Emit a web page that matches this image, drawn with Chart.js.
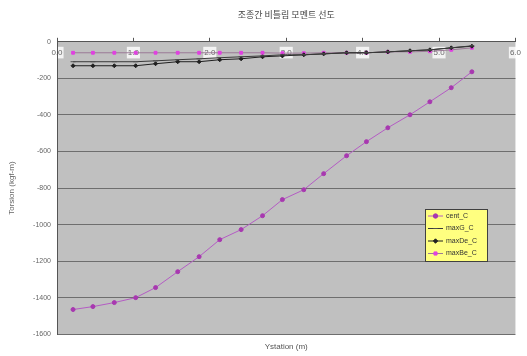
<!DOCTYPE html>
<html lang="ko">
<head>
<meta charset="UTF-8">
<title>비틀림 모멘트 선도</title>
<script src="https://cdn.jsdelivr.net/npm/chart.js@4.4.0/dist/chart.umd.min.js"></script>
<style>
    html, body { margin: 0; padding: 0; background: #fff; }
    #wrap { width: 527px; height: 356px; }
</style>
</head>
<body>
<div id="wrap"><canvas id="torsionChart" width="527" height="356"></canvas></div>
<script>
    // Y station (m)
    var station = [0.21, 0.47, 0.75, 1.03, 1.29, 1.58, 1.86, 2.13, 2.41, 2.69,
                   2.95, 3.23, 3.49, 3.79, 4.05, 4.33, 4.62, 4.88, 5.16, 5.43];

    // 비틀림 모멘트 (kgf-m)
    var centC  = [-1464, -1448, -1426, -1399, -1344, -1257, -1175, -1082, -1027, -951,
                  -863, -809, -721, -623, -546, -470, -399, -328, -251, -164];
    var maxGC  = [-109, -109, -109, -109, -104, -98, -93, -87, -82, -77,
                  -71, -71, -66, -60, -60, -55, -49, -44, -33, -22];
    var maxDeC = [-131, -131, -131, -131, -120, -109, -109, -98, -93, -82,
                  -77, -71, -66, -60, -60, -55, -49, -44, -33, -24];
    var maxBeC = [-60, -60, -60, -60, -60, -60, -60, -60, -60, -60,
                  -62, -62, -60, -60, -60, -55, -55, -52, -44, -33];

    var seriesNames = ['cent_C', 'maxG_C', 'maxDe_C', 'maxBe_C'];

    function toPoints(values) {
        return station.map(function(s, i) { return { x: s, y: values[i] }; });
    }

    // 플롯 영역 회색 배경
    var plotBg = {
        id: 'plotBg',
        beforeDraw: function(chart) {
            var a = chart.chartArea, ctx = chart.ctx;
            ctx.save();
            ctx.fillStyle = '#c0c0c0';
            ctx.fillRect(a.left, a.top, a.right - a.left, a.bottom - a.top);
            ctx.restore();
        }
    };

    // 노란 범례 상자 (플롯 안쪽 오른쪽 아래)
    var boxLegend = {
        id: 'boxLegend',
        afterDraw: function(chart) {
            var ctx = chart.ctx;
            var x = 425, y = 209, w = 62, h = 52;
            ctx.save();
            ctx.fillStyle = '#ffff80';
            ctx.fillRect(x, y, w, h);
            ctx.strokeStyle = '#404040';
            ctx.lineWidth = 1;
            ctx.strokeRect(x + 0.5, y + 0.5, w, h);
            ctx.font = '7px "Liberation Sans", Arial, sans-serif';
            ctx.textBaseline = 'middle';
            chart.data.datasets.forEach(function(ds, i) {
                var cy = y + 7 + i * 12.5;
                ctx.strokeStyle = ds.borderColor;
                ctx.lineWidth = 1;
                ctx.beginPath();
                ctx.moveTo(x + 3, cy);
                ctx.lineTo(x + 18, cy);
                ctx.stroke();
                ctx.fillStyle = ds.pointBackgroundColor;
                ctx.strokeStyle = ds.pointBorderColor;
                Chart.helpers.drawPoint(ctx, {
                    pointStyle: ds.pointStyle,
                    radius: 2.2,
                    rotation: 0,
                    borderWidth: 1
                }, x + 10.5, cy);
                ctx.fillStyle = '#333';
                ctx.fillText(ds.label, x + 21, cy);
            });
            ctx.restore();
        }
    };

    var ctx = document.getElementById('torsionChart').getContext('2d');
    new Chart(ctx, {
        type: 'line',
        data: {
            datasets: [{
                label: seriesNames[0],
                data: toPoints(centC),
                borderColor: '#b45cc4',
                borderWidth: 1,
                pointStyle: 'circle',
                pointRadius: 2,
                pointBackgroundColor: '#a838b0',
                pointBorderColor: '#a838b0',
                fill: false
            }, {
                label: seriesNames[1],
                data: toPoints(maxGC),
                borderColor: '#3a3a3a',
                borderWidth: 1,
                pointStyle: 'line',
                pointRadius: 2.5,
                pointBackgroundColor: '#505050',
                pointBorderColor: '#505050',
                fill: false
            }, {
                label: seriesNames[2],
                data: toPoints(maxDeC),
                borderColor: '#202020',
                borderWidth: 1,
                pointStyle: 'rectRot',
                pointRadius: 2,
                pointBackgroundColor: '#202020',
                pointBorderColor: '#202020',
                fill: false
            }, {
                label: seriesNames[3],
                data: toPoints(maxBeC),
                borderColor: '#9a7a96',
                borderWidth: 1,
                pointStyle: 'rect',
                pointRadius: 2,
                pointBackgroundColor: '#e040e0',
                pointBorderColor: '#e040e0',
                fill: false
            }]
        },
        options: {
            responsive: false,
            animation: false,
            layout: { padding: { left: 0, right: 7, top: 0, bottom: 1 } },
            plugins: {
                legend: { display: false },
                tooltip: { enabled: false },
                title: {
                    display: true,
                    text: '조종간 비틀림 모멘트 선도',
                    fullSize: false,
                    color: '#444',
                    font: { family: '"Noto Sans CJK KR", sans-serif', size: 9, weight: 'normal' },
                    padding: { top: 9, bottom: 10 }
                },
                subtitle: {
                    display: true,
                    position: 'bottom',
                    text: 'Ystation (m)',
                    fullSize: false,
                    color: '#555',
                    font: { family: '"Liberation Sans", Arial, sans-serif', size: 8 },
                    padding: { top: 8, bottom: 3 }
                }
            },
            scales: {
                x: {
                    type: 'linear',
                    position: 'top',
                    min: 0,
                    max: 6,
                    afterFit: function(scale) { scale.height = 12; },
                    ticks: {
                        stepSize: 1,
                        mirror: true,
                        padding: 6,
                        color: '#666',
                        font: { family: '"Liberation Sans", Arial, sans-serif', size: 8 },
                        showLabelBackdrop: true,
                        backdropColor: 'rgba(255,255,255,0.8)',
                        backdropPadding: 1,
                        callback: function(v) { return v.toFixed(1); }
                    },
                    grid: {
                        drawOnChartArea: false,
                        drawTicks: true,
                        tickLength: 4,
                        color: '#555'
                    },
                    border: { display: true, color: '#555', width: 1 }
                },
                y: {
                    min: -1600,
                    max: 0,
                    afterFit: function(scale) { scale.width = 57; },
                    ticks: {
                        stepSize: 200,
                        padding: 6,
                        color: '#666',
                        font: { family: '"Liberation Sans", Arial, sans-serif', size: 7 },
                        callback: function(v) { return String(v); }
                    },
                    grid: {
                        color: '#6e6e6e',
                        lineWidth: 1,
                        drawTicks: false
                    },
                    border: { display: true, color: '#555', width: 1 },
                    title: {
                        display: true,
                        text: 'Torsion (kgf-m)',
                        color: '#666',
                        font: { family: '"Liberation Sans", Arial, sans-serif', size: 8 },
                        padding: { top: 7, bottom: 0 }
                    }
                }
            }
        },
        plugins: [plotBg, boxLegend]
    });
</script>
</body>
</html>
